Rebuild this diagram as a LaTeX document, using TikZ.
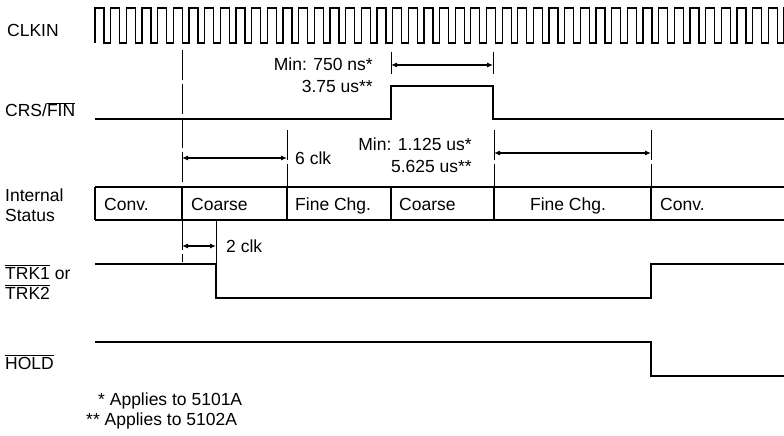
\documentclass[tikz,border=0pt]{standalone}
\usepackage{fontspec}
\setmainfont{Liberation Sans}
\usetikzlibrary{arrows.meta}
\usetikzlibrary{positioning}

\newcommand{\ovl}[1]{$\overline{\mbox{#1}}$}

\tikzset{
  wave/.style={line width=1.3pt, line join=miter},
  guide/.style={line width=1pt, dash pattern=on 30pt off 4pt},
  tickline/.style={line width=1pt},
  dim/.style={line width=1.1pt, {Latex[length=6pt,width=5pt]}-{Latex[length=6pt,width=5pt]}},
  lbl/.style={font=\fontsize{17.5}{20}\selectfont, inner sep=0pt, align=left},
  cell/.style={line width=1.1pt},
}

\begin{document}
\begin{tikzpicture}[x=1pt,y=-1pt]
\useasboundingbox (0,0) rectangle (784,436);

% signal names
\node[lbl, anchor=west] (clkin) at (7,30) {CLKIN};
\node[lbl, anchor=west] (crs) at (5,110) {CRS/\ovl{FIN}};
\node[lbl, anchor=west] (intstat) at (5,205) {Internal\\Status};
\node[lbl, anchor=west] (trk) at (5,282) {\ovl{TRK1} or\\\ovl{TRK2}};
\node[lbl, anchor=west] (hold) at (5,362) {\ovl{HOLD}};

% clock
\begin{scope}
\clip (0,0) rectangle (784,60);
\draw[wave] (95,43) \foreach \i in {0,...,44} { -- ++(0,-35) -- ++(9,0) -- ++(0,35) -- ++(6.66,0) };
\end{scope}

% waveforms
\draw[wave] (95,119) -- (391,119) -- (391,86) -- (493,86) -- (493,119) -- (784,119);
\draw[wave] (95,264) -- (216,264) -- (216,298) -- (651,298) -- (651,264) -- (784,264);
\draw[wave] (95,342) -- (651,342) -- (651,376) -- (784,376);

% internal status
\draw[cell] (95,187) -- (784,187) (95,220) -- (784,220);
\foreach \x in {95,182,287,391,494,651}
  \draw[cell] (\x,187) -- (\x,220);
\node[lbl, anchor=base west] (st1) at (104,210) {Conv.};
\node[lbl, anchor=base west] (st2) at (191,210) {Coarse};
\node[lbl, anchor=base west] (st3) at (295,210) {Fine Chg.};
\node[lbl, anchor=base west] (st4) at (399,210) {Coarse};
\node[lbl, anchor=base] (st5) at (568,210) {Fine Chg.};
\node[lbl, anchor=base west] (st6) at (660,210) {Conv.};

% guide lines
\draw[guide] (182,50) -- (182,262);
\draw[guide] (287,130) -- (287,187);
\draw[guide] (494,130) -- (494,187);
\draw[guide] (651,130) -- (651,187);
\draw[tickline] (391,52) -- (391,74);
\draw[tickline] (493,52) -- (493,74);
\draw[tickline] (216,220) -- (216,264);

% timing arrows
\coordinate (m1) at (391,65);
\coordinate (m2) at (493,65);
\coordinate (c6a) at (182,158);
\coordinate (c6b) at (287,158);
\coordinate (f1) at (494,153);
\coordinate (f2) at (651,153);
\coordinate (c2a) at (182,246);
\coordinate (c2b) at (216,246);
\draw[dim] (m1) -- (m2);
\draw[dim] (c6a) -- (c6b);
\draw[dim] (f1) -- (f2);
\draw[dim] (c2a) -- (c2b);

\node[lbl, anchor=east] (min1) at (373,64) {Min: 750 ns*};
\node[lbl, anchor=east] (max1) at (373,86) {3.75 us**};
\node[lbl, right=8pt of c6b] (clk6) {6 clk};
\node[lbl, anchor=east] (min2) at (472,144) {Min: 1.125 us*};
\node[lbl, anchor=east] (max2) at (472,166) {5.625 us**};
\node[lbl, right=10pt of c2b] (clk2) {2 clk};

% notes
\node[lbl, anchor=west] (note1) at (98,401) {* Applies to 5101A};
\node[lbl, anchor=west] (note2) at (86,421) {** Applies to 5102A};

\end{tikzpicture}
\end{document}
